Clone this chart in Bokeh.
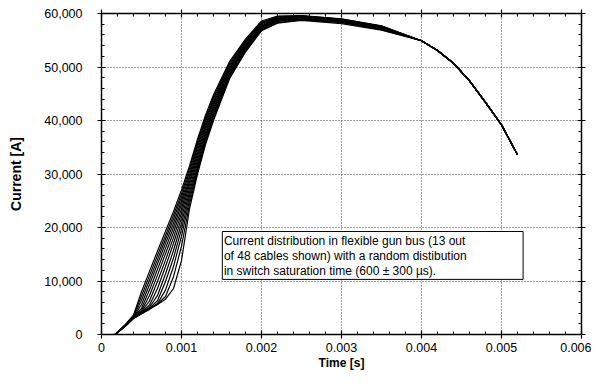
from bokeh.plotting import figure
from bokeh.models import (Range1d, FixedTicker, LinearAxis, BoxAnnotation, Label,
                          CustomLabelingPolicy)
from bokeh.embed import file_html
from bokeh.resources import INLINE

# ---------------- data ----------------
# common time grid for the rise (s)
T_EARLY = [0.00017, 0.0003, 0.0004, 0.0005, 0.0006, 0.0007, 0.0008, 0.0009,
           0.001, 0.0011, 0.0012, 0.0013, 0.0014, 0.0016, 0.0018, 0.002,
           0.0022, 0.0025, 0.003, 0.0035]

# currents (A) of the 13 cables shown, on T_EARLY
CABLE_01 = [0, 1900, 3600, 8000, 11800, 15600, 19300, 23000, 27000, 31500, 36500, 41000, 44800, 51000, 55200, 58600, 59500, 59600, 59000, 57700]
CABLE_02 = [0, 1850, 3500, 7200, 11000, 14800, 18500, 22300, 26300, 31000, 36000, 40600, 44400, 50700, 55000, 58400, 59400, 59550, 58950, 57650]
CABLE_03 = [0, 1800, 3400, 6400, 10200, 14000, 17800, 21600, 25700, 30400, 35500, 40200, 44000, 50400, 54800, 58300, 59300, 59500, 58900, 57600]
CABLE_04 = [0, 1800, 3300, 5600, 9300, 13200, 17000, 20800, 25000, 29800, 35000, 39800, 43600, 50100, 54600, 58100, 59200, 59450, 58850, 57500]
CABLE_05 = [0, 1750, 3300, 4900, 8300, 12200, 16100, 20000, 24300, 29200, 34400, 39300, 43200, 49800, 54400, 57900, 59100, 59400, 58800, 57450]
CABLE_06 = [0, 1750, 3250, 4500, 7300, 11100, 15100, 19100, 23500, 28600, 33800, 38800, 42800, 49500, 54200, 57700, 59000, 59300, 58700, 57400]
CABLE_07 = [0, 1700, 3200, 4300, 6300, 9900, 13900, 18100, 22700, 28000, 33200, 38300, 42400, 49200, 54000, 57600, 58900, 59200, 58650, 57300]
CABLE_08 = [0, 1700, 3150, 4200, 5500, 8600, 12700, 17000, 21800, 27300, 32600, 37800, 42000, 48900, 53800, 57500, 58800, 59100, 58600, 57250]
CABLE_09 = [0, 1650, 3100, 4100, 5100, 7300, 11300, 15700, 20800, 26600, 32000, 37300, 41600, 48700, 53600, 57400, 58700, 59050, 58550, 57200]
CABLE_10 = [0, 1650, 3100, 4000, 4900, 6300, 9900, 14300, 19700, 25900, 31400, 36800, 41200, 48500, 53400, 57200, 58600, 59000, 58500, 57150]
CABLE_11 = [0, 1600, 3050, 3950, 4800, 5800, 8300, 12700, 18400, 25100, 30900, 36300, 40800, 48300, 53200, 57100, 58500, 58900, 58400, 57100]
CABLE_12 = [0, 1600, 3000, 3900, 4750, 5700, 7100, 10800, 16500, 24300, 30400, 35900, 40400, 48000, 53000, 56900, 58300, 58800, 58300, 57000]
CABLE_13 = [0, 1600, 3000, 3900, 4700, 5600, 6600, 8600, 13800, 23500, 30000, 35500, 40000, 47800, 52800, 56800, 58200, 58700, 58100, 56900]

# shared decay tail (all cables coincide here)
T_TAIL = [0.004, 0.0042, 0.0044, 0.0046, 0.0048, 0.005, 0.0052]
I_TAIL = [54900, 53100, 50700, 47400, 43400, 39200, 33600]

CABLES = [CABLE_01, CABLE_02, CABLE_03, CABLE_04, CABLE_05, CABLE_06, CABLE_07,
          CABLE_08, CABLE_09, CABLE_10, CABLE_11, CABLE_12, CABLE_13]

X_TICKS = [0.0, 0.001, 0.002, 0.003, 0.004, 0.005, 0.006]
X_TICK_LABELS = ["0", "0.001", "0.002", "0.003", "0.004", "0.005", "0.006"]
Y_TICKS = [0, 10000, 20000, 30000, 40000, 50000, 60000]
Y_TICK_LABELS = ["0", "10,000", "20,000", "30,000", "40,000", "50,000", "60,000"]

NOTE_LINES = ["Current distribution in flexible gun bus (13 out",
              " of 48 cables shown) with a random distibution",
              "in switch saturation time (600 \u00b1 300 \u00b5s)."]
# note box extent and text line positions (data coordinates)
NOTE_BOX = dict(left=0.00151, right=0.00527, bottom=10300, top=19250)
NOTE_X = 0.00153
NOTE_Y = [17550, 14750, 11950]

FONT = "Liberation Sans"

# ---------------- figure ----------------
p = figure(width=591, height=372, output_backend="svg", toolbar_location=None,
           x_range=Range1d(0, 0.006), y_range=Range1d(0, 60000),
           min_border_left=101, min_border_right=8, min_border_top=13,
           min_border_bottom=30, background_fill_color="white",
           border_fill_color="white")
p.outline_line_color = None

for c in CABLES:
    p.line(T_EARLY + T_TAIL, c + I_TAIL, line_color="black", line_width=1.2)

x_minor = [i * 0.0002 for i in range(31)]
y_minor = [i * 2000 for i in range(31)]
xt = FixedTicker(ticks=X_TICKS, minor_ticks=x_minor)
yt = FixedTicker(ticks=Y_TICKS, minor_ticks=y_minor)

HIDE_ALL = ("const keep = []; for (const i of indices) keep.push(i); "
            "for (const i of keep) indices.unset(i); return indices")


def style_axis(ax, show_labels):
    ax.axis_line_color = "black"
    ax.axis_line_width = 1.5
    ax.major_tick_line_color = "black"
    ax.major_tick_line_width = 1.2
    ax.minor_tick_line_color = "black"
    ax.major_tick_in = 4
    ax.major_tick_out = 4
    ax.minor_tick_in = 3
    ax.minor_tick_out = 0
    if show_labels:
        ax.major_label_text_font = FONT
        ax.major_label_text_font_size = "12.5px"
        ax.major_label_text_color = "black"
        ax.axis_label_text_font = FONT
        ax.axis_label_text_font_style = "bold"
        ax.axis_label_text_color = "black"
    else:
        ax.major_label_policy = CustomLabelingPolicy(code=HIDE_ALL)
        ax.major_label_text_font_size = "1px"
        ax.major_label_standoff = 0


xa = p.xaxis[0]
xa.ticker = xt
xa.major_label_overrides = dict(zip(X_TICKS, X_TICK_LABELS))
xa.axis_label = "Time [s]"
style_axis(xa, True)
xa.major_label_standoff = 4
xa.axis_label_standoff = 1
xa.axis_label_text_font_size = "12px"

ya = p.yaxis[0]
ya.ticker = yt
ya.major_label_overrides = dict(zip(Y_TICKS, Y_TICK_LABELS))
ya.axis_label = "Current [A]"
style_axis(ya, True)
ya.major_label_standoff = 15
ya.axis_label_standoff = 17
ya.axis_label_text_font_size = "14px"

top_ax = LinearAxis(ticker=xt)
style_axis(top_ax, False)
p.add_layout(top_ax, "above")
right_ax = LinearAxis(ticker=yt)
style_axis(right_ax, False)
p.add_layout(right_ax, "right")

p.xgrid.ticker = xt
p.ygrid.ticker = yt
for g in (p.xgrid[0], p.ygrid[0]):
    g.grid_line_color = "#444444"
    g.grid_line_dash = "1 2"
    g.grid_line_width = 1

box = BoxAnnotation(left=NOTE_BOX["left"], right=NOTE_BOX["right"],
                    bottom=NOTE_BOX["bottom"], top=NOTE_BOX["top"],
                    fill_color="white", fill_alpha=1.0,
                    line_color="black", line_width=1, line_alpha=1.0)
p.add_layout(box)
for txt, yy in zip(NOTE_LINES, NOTE_Y):
    p.add_layout(Label(x=NOTE_X, y=yy, text=txt, text_font=FONT,
                       text_font_size="12px", text_color="black",
                       text_baseline="middle", text_align="left"))

open("out.html", "w").write(file_html(p, INLINE))
